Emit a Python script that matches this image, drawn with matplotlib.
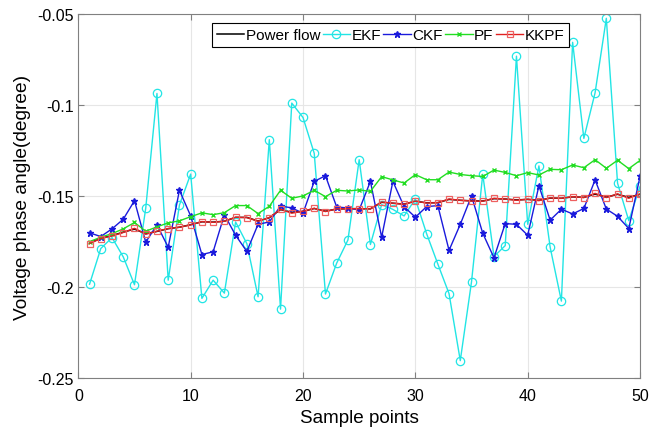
import numpy as np
import matplotlib.pyplot as plt

plt.rcParams['font.family'] = ['Liberation Sans', 'DejaVu Sans']

samples = np.arange(1, 51)

power_flow = [-0.1757, -0.1731, -0.1716, -0.1697, -0.1680, -0.1706, -0.1693, -0.1678, -0.1670, -0.1656,
              -0.1640, -0.1642, -0.1637, -0.1616, -0.1616, -0.1636, -0.1618, -0.1573, -0.1588, -0.1583,
              -0.1567, -0.1582, -0.1570, -0.1568, -0.1568, -0.1569, -0.1533, -0.1538, -0.1543, -0.1527,
              -0.1536, -0.1535, -0.1517, -0.1522, -0.1525, -0.1526, -0.1513, -0.1515, -0.1520, -0.1517,
              -0.1522, -0.1510, -0.1511, -0.1503, -0.1506, -0.1488, -0.1505, -0.1489, -0.1506, -0.1489]

ekf = [-0.1983, -0.1787, -0.1727, -0.1833, -0.1986, -0.1566, -0.0935, -0.1961, -0.1548, -0.1378,
       -0.2061, -0.1961, -0.2032, -0.1641, -0.1760, -0.2052, -0.1189, -0.2120, -0.0988, -0.1067,
       -0.1264, -0.2037, -0.1867, -0.1740, -0.1299, -0.1765, -0.1546, -0.1572, -0.1608, -0.1515,
       -0.1705, -0.1872, -0.2035, -0.2403, -0.1970, -0.1379, -0.1831, -0.1771, -0.0730, -0.1654,
       -0.1333, -0.1780, -0.2076, -0.0654, -0.1182, -0.0931, -0.0522, -0.1428, -0.1634, -0.1446]

ckf = [-0.1701, -0.1721, -0.1679, -0.1626, -0.1524, -0.1752, -0.1657, -0.1780, -0.1467, -0.1608,
       -0.1820, -0.1805, -0.1601, -0.1714, -0.1803, -0.1654, -0.1641, -0.1553, -0.1564, -0.1593,
       -0.1418, -0.1387, -0.1559, -0.1564, -0.1575, -0.1418, -0.1725, -0.1418, -0.1557, -0.1615,
       -0.1557, -0.1551, -0.1797, -0.1654, -0.1498, -0.1703, -0.1838, -0.1650, -0.1654, -0.1714,
       -0.1442, -0.1631, -0.1571, -0.1597, -0.1567, -0.1410, -0.1570, -0.1610, -0.1677, -0.1391]

pf = [-0.1749, -0.1725, -0.1705, -0.1679, -0.1644, -0.1692, -0.1668, -0.1646, -0.1635, -0.1612,
      -0.1591, -0.1601, -0.1590, -0.1551, -0.1551, -0.1595, -0.1555, -0.1467, -0.1511, -0.1498,
      -0.1467, -0.1502, -0.1467, -0.1471, -0.1465, -0.1473, -0.1392, -0.1410, -0.1427, -0.1381,
      -0.1409, -0.1409, -0.1367, -0.1380, -0.1387, -0.1391, -0.1356, -0.1369, -0.1387, -0.1370,
      -0.1383, -0.1352, -0.1354, -0.1328, -0.1343, -0.1299, -0.1346, -0.1302, -0.1348, -0.1303]

kkpf = [-0.1760, -0.1732, -0.1718, -0.1699, -0.1676, -0.1708, -0.1692, -0.1677, -0.1670, -0.1657,
        -0.1639, -0.1643, -0.1637, -0.1615, -0.1617, -0.1637, -0.1617, -0.1571, -0.1593, -0.1582,
        -0.1566, -0.1584, -0.1569, -0.1568, -0.1568, -0.1569, -0.1531, -0.1538, -0.1544, -0.1526,
        -0.1537, -0.1535, -0.1515, -0.1522, -0.1526, -0.1527, -0.1511, -0.1515, -0.1522, -0.1516,
        -0.1524, -0.1509, -0.1511, -0.1502, -0.1507, -0.1484, -0.1507, -0.1487, -0.1511, -0.1487]

fig = plt.figure(figsize=(6.66, 4.31), dpi=100)
ax = fig.add_axes([0.1176, 0.12, 0.8434, 0.8445])

ax.plot(samples, power_flow, color='black', lw=1.1, label='Power flow')
ax.plot(samples, ekf, color='#22e5e5', lw=1.0, marker='o', ms=6, mfc='none', mew=0.9, label='EKF')
ax.plot(samples, ckf, color='#1a1adc', lw=1.0, marker='*', ms=4.5, label='CKF')
ax.plot(samples, pf, color='#22dd22', lw=1.0, marker='x', ms=3.5, mew=1.0, label='PF')
ax.plot(samples, kkpf, color='#e02020', lw=1.0, marker='s', ms=4, mfc='none', mec='#ee6060', mew=0.9, label='KKPF')

ax.set_xlim(0, 50)
ax.set_ylim(-0.25, -0.05)
ax.set_xticks([0, 10, 20, 30, 40, 50])
ax.set_yticks([-0.25, -0.2, -0.15, -0.1, -0.05])
ax.set_yticklabels(['-0.25', '-0.2', '-0.15', '-0.1', '-0.05'])
ax.grid(True, color='#e6e6e6', lw=0.8)
ax.set_axisbelow(True)
ax.tick_params(direction='in', top=True, right=True, labelsize=11.5, color='#808080', length=4)
ax.tick_params(axis='x', pad=7)
for s in ax.spines.values():
    s.set_color('#808080')

ax.set_xlabel('Sample points', fontsize=13.6, labelpad=4)
ax.set_ylabel('Voltage phase angle(degree)', fontsize=13.8)

leg = ax.legend(loc='upper center', bbox_to_anchor=(0.556, 0.975), ncol=5, fontsize=11,
                handlelength=1.8, handletextpad=0.1, columnspacing=0.15, borderpad=0.3,
                borderaxespad=0, fancybox=False, framealpha=1)
leg.get_frame().set_edgecolor('black')
leg.get_frame().set_linewidth(0.8)

fig.savefig('out.png', dpi=100)
